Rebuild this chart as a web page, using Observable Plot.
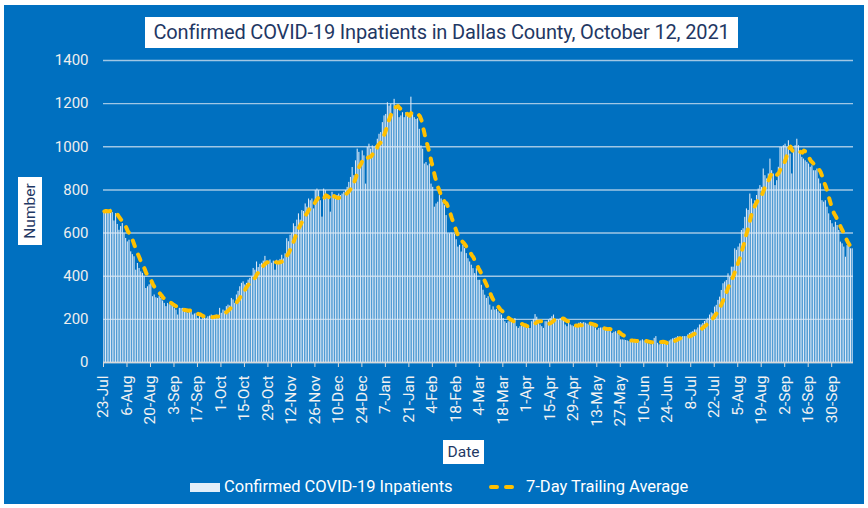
<!DOCTYPE html>
<html>
<head>
<meta charset="utf-8">
<script src="https://cdn.jsdelivr.net/npm/d3@7"></script>
<script src="https://cdn.jsdelivr.net/npm/@observablehq/plot@0.6"></script>
<style>
  html, body { margin: 0; padding: 0; background: #ffffff; }
  #wrap { position: relative; width: 868px; height: 508px; overflow: hidden; font-family: Roboto, "Noto Sans", sans-serif; }
  #bg { position: absolute; left: 4px; top: 5px; width: 860px; height: 499px; background: #0070C0; }
  #chart { position: absolute; left: 0; top: 0; }
  .box { position: absolute; background: #ffffff; color: #1F3864; text-align: center; }
  #title { left: 145px; top: 17px; width: 593px; height: 31px; line-height: 31px; font-size: 20px; white-space: nowrap; letter-spacing: -0.15px; }
  #ylab { left: 18px; top: 177px; width: 24px; height: 68px; font-size: 15.5px; }
  #ylab span { position: absolute; left: 50%; top: 50%; transform: translate(-50%, -50%) rotate(-90deg); white-space: nowrap; }
  #xlab { left: 443px; top: 440px; width: 41px; height: 24px; line-height: 24px; font-size: 15.5px; }
  .leg { position: absolute; color: #ffffff; font-size: 16.5px; white-space: nowrap; line-height: 18px; }
</style>
</head>
<body>
<div id="wrap">
  <div id="bg"></div>
  <div id="chart"></div>
  <div class="box" id="title">Confirmed COVID-19 Inpatients in Dallas County, October 12, 2021</div>
  <div class="box" id="ylab"><span>Number</span></div>
  <div class="box" id="xlab">Date</div>
  <div style="position:absolute;left:190px;top:483px;width:30px;height:9px;background:#e3eef9;"></div>
  <div class="leg" style="left:224px;top:478px;">Confirmed COVID-19 Inpatients</div>
  <svg style="position:absolute;left:488px;top:480px;" width="36" height="14"><line x1="3" y1="7" x2="33" y2="7" stroke="#FFC000" stroke-width="4" stroke-dasharray="6,9" stroke-linecap="round"/></svg>
  <div class="leg" style="left:526px;top:478px;">7-Day Trailing Average</div>
</div>
<script>
// Daily confirmed COVID-19 inpatients, starting 23-Jul-2020 (one value per day through 12-Oct-2021)
const startDay = "2020-07-23";
const inpatients = [
  700,705,698,702,710,695,656,690,640,613,
  630,644,597,575,559,567,513,500,490,428,
  459,436,420,413,397,343,351,360,367,305,
  313,300,297,305,297,285,274,259,274,268,
  266,259,250,243,220,251,250,251,236,243,
  228,232,236,220,225,228,205,220,197,205,
  212,205,212,215,220,205,218,220,205,251,
  228,243,238,259,266,262,297,290,274,313,
  330,351,367,374,360,367,382,390,397,436,
  428,466,440,455,460,470,492,470,465,475,
  460,470,428,474,470,478,497,480,504,574,
  560,590,597,643,630,660,689,660,704,700,
  735,720,758,750,758,712,797,804,797,750,
  674,804,797,774,766,697,789,774,766,774,
  781,774,781,789,797,812,835,858,904,866,
  935,989,974,920,981,958,827,997,1012,989,
  1004,997,1004,1035,1058,1066,1112,1143,1150,1204,
  1189,1197,1150,1220,1189,1174,1135,1143,1158,1135,
  1158,1143,1135,1230,1158,1135,1127,1130,1081,1004,
  989,920,927,912,920,827,812,720,735,743,
  774,758,743,727,681,597,597,600,597,594,
  569,535,543,512,543,528,505,481,466,451,
  435,412,435,381,381,358,335,312,297,305,
  266,243,258,243,246,235,228,220,204,189,
  181,189,189,200,181,204,166,158,166,174,
  174,166,174,166,158,189,200,222,210,181,
  174,166,158,189,189,197,204,212,220,197,
  200,197,204,200,200,174,166,189,174,170,
  166,165,163,182,185,182,185,182,178,174,
  174,170,166,160,150,158,160,160,155,150,
  150,158,143,135,140,143,135,128,105,105,
  104,102,100,97,100,102,100,100,98,97,
  100,105,100,95,89,85,82,97,112,120,
  89,82,85,89,89,89,95,100,105,110,
  112,115,120,118,112,120,120,120,128,135,
  140,143,151,151,160,174,174,181,190,197,
  205,220,230,226,257,265,288,303,334,365,
  373,380,411,395,442,442,527,520,535,550,
  612,620,673,712,705,781,758,735,750,774,
  804,820,812,897,866,851,874,943,889,874,
  820,843,905,997,997,1005,1012,997,1028,966,
  874,974,1005,1035,1005,966,951,943,935,928,
  920,905,912,889,889,897,851,828,750,743,
  750,720,689,658,643,627,650,635,612,558,
  550,535,488,542,542,527,527
];
const xTickLabels = ["23-Jul","6-Aug","20-Aug","3-Sep","17-Sep","1-Oct","15-Oct","29-Oct","12-Nov","26-Nov",
  "10-Dec","24-Dec","7-Jan","21-Jan","4-Feb","18-Feb","4-Mar","18-Mar","1-Apr","15-Apr",
  "29-Apr","13-May","27-May","10-Jun","24-Jun","8-Jul","22-Jul","5-Aug","19-Aug","2-Sep",
  "16-Sep","30-Sep"];
const yTicks = [0, 200, 400, 600, 800, 1000, 1200, 1400];

const DAY = 86400000;
const t0 = Date.parse(startDay + "T00:00:00Z");
const data = inpatients.map((v, i) => ({date: new Date(t0 + i * DAY), value: v}));
const tickDates = xTickLabels.map((_, k) => new Date(t0 + k * 14 * DAY));
const labelByTime = new Map(tickDates.map((d, k) => [+d, xTickLabels[k]]));

const chart = Plot.plot({
  width: 868,
  height: 440,
  marginLeft: 103,
  marginRight: 15,
  marginTop: 60,
  marginBottom: 78,
  style: {background: "transparent", color: "#ffffff", fontFamily: "Roboto, 'Noto Sans', sans-serif", overflow: "visible"},
  x: {type: "utc", domain: [new Date(t0), new Date(t0 + inpatients.length * DAY)]},
  y: {domain: [0, 1400]},
  marks: [
    Plot.gridY(yTicks, {stroke: "#d6e4f2", strokeOpacity: 0.75, strokeWidth: 1.4}),
    Plot.rectY(data, {x1: "date", x2: d => new Date(+d.date + DAY), y: "value", fill: "#dde9f6", insetLeft: 0.3, insetRight: 0.3}),
    Plot.ruleY([0], {stroke: "#d9d9d9", strokeWidth: 1.5}),
    Plot.lineY(data, Plot.windowY({k: 7, anchor: "end", reduce: "mean"}, {
      x: d => new Date(+d.date + DAY / 2), y: "value",
      stroke: "#FFC000", strokeWidth: 4, strokeDasharray: "6,9", strokeLinecap: "round"
    })),
    Plot.axisY(yTicks, {tickSize: 0, tickPadding: 15, tickFormat: d => String(d), fill: "#eeeeee", fontSize: 15, label: null}),
    Plot.axisX(tickDates, {tickFormat: d => labelByTime.get(+d), tickRotate: -90, tickSize: 5, tickPadding: 8,
      stroke: "#d9d9d9", fill: "#f2f2f2", fontSize: 15.5, label: null})
  ]
});
document.getElementById("chart").appendChild(chart);
</script>
</body>
</html>
